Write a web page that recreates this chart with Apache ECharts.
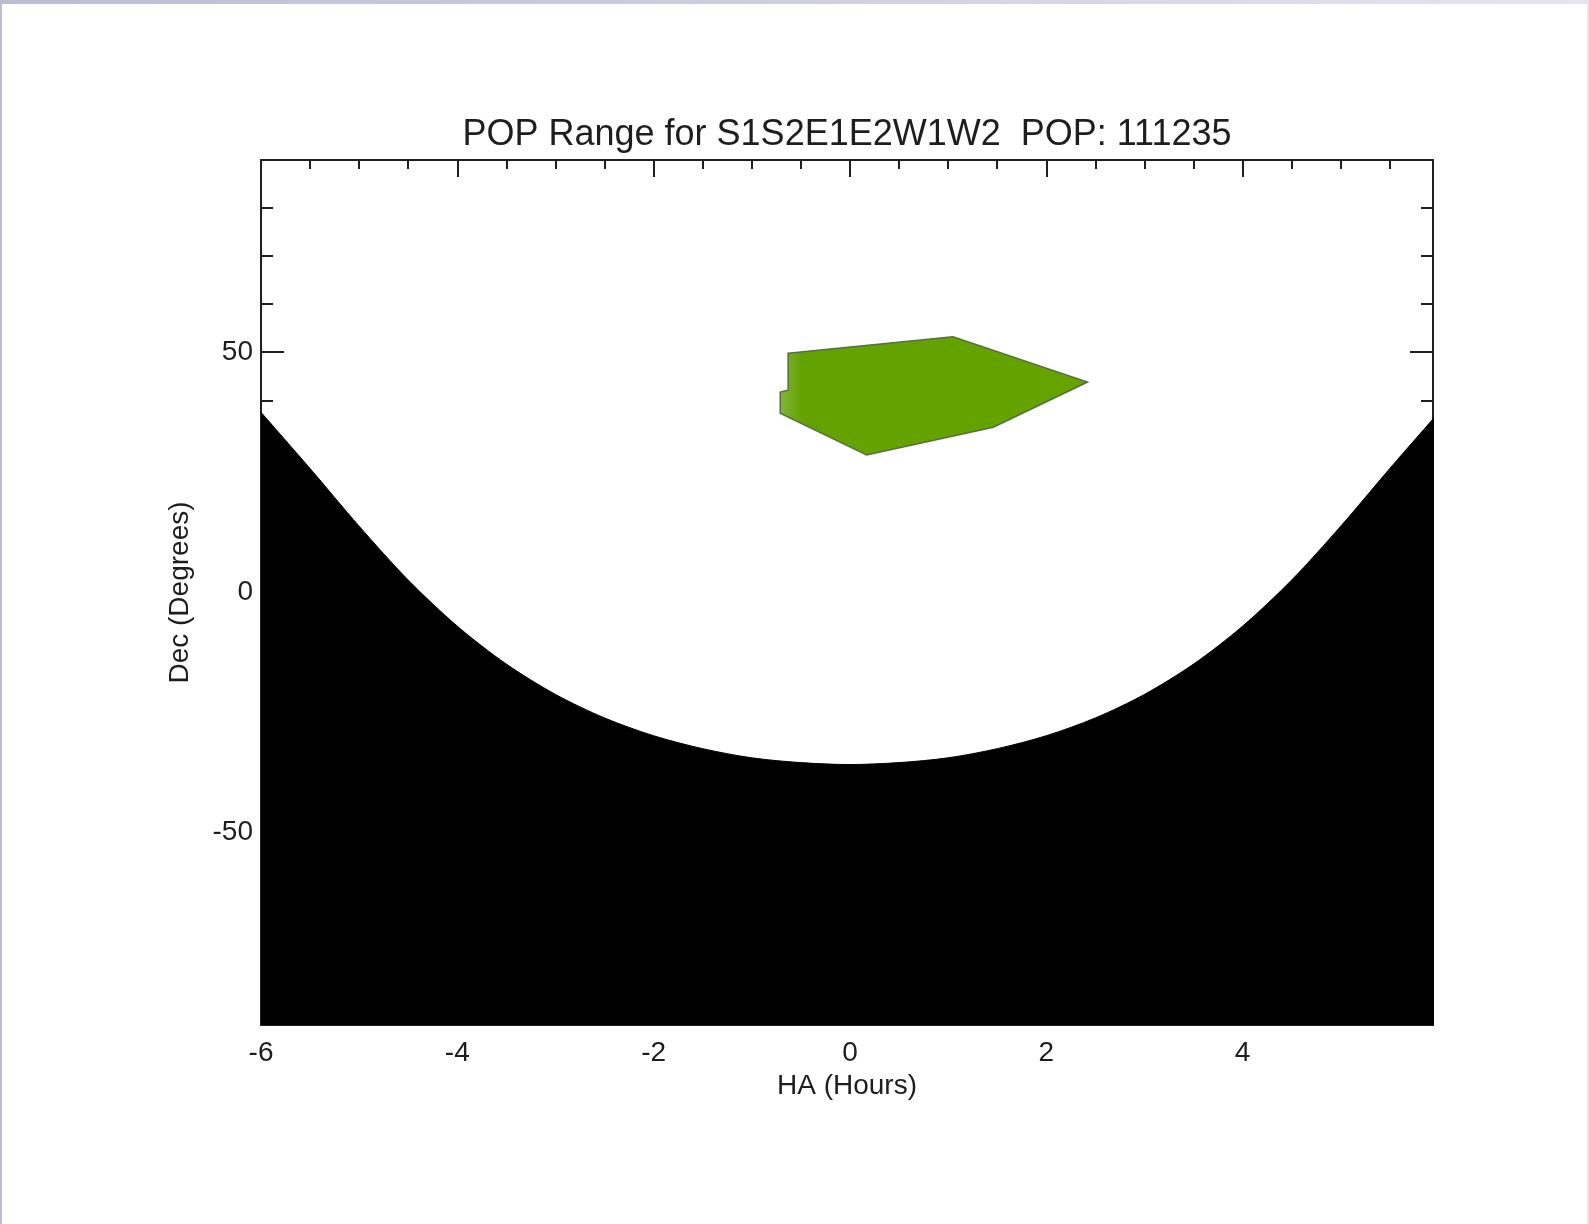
<!DOCTYPE html>
<html>
<head>
<meta charset="utf-8">
<title>POP Range</title>
<script src="https://cdn.jsdelivr.net/npm/echarts@6/dist/echarts.min.js"></script>
<style>
  html, body { margin: 0; padding: 0; }
  body {
    width: 1589px; height: 1224px; overflow: hidden; position: relative;
    background: linear-gradient(90deg, #bcbcd4 0%, #cfcfe2 50%, #e6e4f2 100%);
  }
  #paper { position: absolute; left: 2px; top: 4px; width: 1585px; height: 1220px; background: #ffffff; }
  #chart { position: absolute; left: 0; top: 0; width: 1589px; height: 1224px; }
</style>
</head>
<body>
<div id="paper"></div>
<div id="chart"></div>
<script>
// Hour-angle range and declination range of the plot
const haMin = -6;
const haMax = 5.94;
const decMin = -90;
const decMax = 90;

// Tick labels
const haLabels = [-6, -4, -2, 0, 2, 4];
const decLabels = [-50, 0, 50];

// Horizon limit: lowest observable declination at each hour angle
const limitHA  = [-6, -5.5, -5, -4.5, -4, -3.5, -3, -2.5, -2, -1.5, -1, -0.5, 0,
                  0.5, 1, 1.5, 2, 2.5, 3, 3.5, 4, 4.5, 5, 5.5, 6];
const limitDec = [37.5, 25.8, 13.8, 2.6, -7.0, -14.9, -21.2, -26.1, -29.8, -32.5, -34.4, -35.4, -35.8,
                  -35.4, -34.4, -32.5, -29.8, -26.1, -21.2, -14.9, -7.0, 2.6, 13.8, 25.8, 37.5];

// POP range outline (HA in hours, Dec in degrees)
const popHA  = [-0.63, 1.05, 2.42, 1.46, 0.17, -0.71, -0.71, -0.63];
const popDec = [49.8, 53.2, 43.8, 34.4, 28.6, 37.3, 41.7, 42.1];

const FONT = '"Liberation Sans", Arial, Helvetica, sans-serif';
const INK = '#1e1e1e';

function minorX(position) {
  return {
    type: 'value', position: position, min: haMin, max: haMax, interval: 0.5, z: 0,
    axisLine: { show: true, onZero: false, lineStyle: { color: INK, width: 2 } },
    axisTick: { show: true, inside: true, length: 9, lineStyle: { color: INK, width: 2 } },
    axisLabel: { show: false }, splitLine: { show: false }
  };
}
function majorX(position, withLabels) {
  return {
    type: 'value', position: position, min: haMin, max: haMax, interval: 2, z: 0,
    axisLine: { show: false, onZero: false },
    axisTick: { show: true, inside: true, length: 17, lineStyle: { color: INK, width: 2 } },
    axisLabel: {
      show: withLabels, showMaxLabel: false, margin: 14,
      fontFamily: FONT, fontSize: 28, color: INK
    },
    splitLine: { show: false }
  };
}
function minorY(position) {
  return {
    type: 'value', position: position, min: decMin, max: decMax, interval: 10, z: 0,
    axisLine: { show: true, onZero: false, lineStyle: { color: INK, width: 2 } },
    axisTick: { show: true, inside: true, length: 12, lineStyle: { color: INK, width: 2 } },
    axisLabel: { show: false }, splitLine: { show: false }
  };
}
function majorY(position, withLabels) {
  return {
    type: 'value', position: position, min: decMin, max: decMax, z: 0,
    axisLine: { show: false, onZero: false },
    axisTick: { show: true, inside: true, length: 23, customValues: decLabels,
                lineStyle: { color: INK, width: 2 } },
    axisLabel: {
      show: withLabels, customValues: decLabels, margin: 8,
      fontFamily: FONT, fontSize: 28, color: INK
    },
    splitLine: { show: false }
  };
}

const xMinorBottom = minorX('bottom');
const xMajorBottom = majorX('bottom', true);
xMajorBottom.name = 'HA (Hours)';
xMajorBottom.nameLocation = 'middle';
xMajorBottom.nameGap = 45;
xMajorBottom.nameTextStyle = { fontFamily: FONT, fontSize: 28, color: INK };

const yMajorLeft = majorY('left', true);
yMajorLeft.name = 'Dec (Degrees)';
yMajorLeft.nameLocation = 'middle';
yMajorLeft.nameRotate = 90;
yMajorLeft.nameGap = 67;
yMajorLeft.nameTextStyle = { fontFamily: FONT, fontSize: 28, color: INK };

const chart = echarts.init(document.getElementById('chart'), null, { renderer: 'canvas' });

chart.setOption({
  backgroundColor: 'transparent',
  animation: false,
  title: {
    text: 'POP Range for S1S2E1E2W1W2  POP: 111235',
    left: 847, top: 117, padding: 0, textAlign: 'center',
    textStyle: { fontFamily: FONT, fontSize: 36, fontWeight: 'normal', color: INK }
  },
  grid: { left: 261, top: 160, right: 156, bottom: 199, containLabel: false },
  xAxis: [xMinorBottom, xMajorBottom, minorX('top'), majorX('top', false)],
  yAxis: [minorY('left'), yMajorLeft, minorY('right'), majorY('right', false)],
  series: [
    {
      name: 'Horizon limit',
      type: 'line',
      xAxisIndex: 0, yAxisIndex: 0,
      data: limitHA.map((h, i) => [h, limitDec[i]]),
      smooth: 0.3,
      showSymbol: false, symbol: 'none',
      lineStyle: { color: '#000000', width: 1 },
      areaStyle: { color: '#000000', opacity: 1, origin: 'start' },
      clip: true, z: 2
    },
    {
      name: 'POP range',
      type: 'custom',
      xAxisIndex: 0, yAxisIndex: 0,
      data: popHA.map((h, i) => [h, popDec[i]]),
      encode: { x: 0, y: 1 },
      renderItem: function (params, api) {
        if (params.dataIndex !== 0) return null;
        const pts = popHA.map((h, i) => api.coord([h, popDec[i]]));
        return {
          type: 'polygon',
          shape: { points: pts },
          style: {
            fill: new echarts.graphic.LinearGradient(0, 0, 1, 0, [
              { offset: 0, color: '#86b43a' },
              { offset: 0.07, color: '#64a202' },
              { offset: 1, color: '#64a300' }
            ]),
            stroke: '#566f40',
            lineWidth: 1.5
          }
        };
      },
      z: 3
    }
  ]
});
</script>
</body>
</html>
